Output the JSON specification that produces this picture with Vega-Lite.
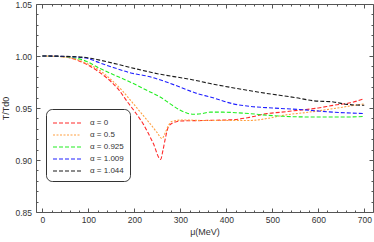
{
  "$schema": "https://vega.github.io/schema/vega-lite/v6.json",
  "width": 337,
  "height": 208,
  "autosize": {"type": "none"},
  "padding": {"left": 36, "top": 4, "right": 1, "bottom": 30},
  "background": "white",
  "config": {
    "view": {"stroke": "#555", "strokeWidth": 1},
    "font": "Liberation Sans",
    "axis": {"grid": false, "domain": false, "tickColor": "#555", "labelColor": "#333", "labelFontSize": 8.5, "titleColor": "#333", "titleFontWeight": "normal", "titleFontSize": 9}
  },
  "data": {"values": [
    {"s": "α = 0", "x": 0, "y": 1.0},
    {"s": "α = 0", "x": 25, "y": 0.9998},
    {"s": "α = 0", "x": 50, "y": 0.999},
    {"s": "α = 0", "x": 75, "y": 0.996},
    {"s": "α = 0", "x": 100, "y": 0.991},
    {"s": "α = 0", "x": 125, "y": 0.984},
    {"s": "α = 0", "x": 150, "y": 0.975},
    {"s": "α = 0", "x": 167, "y": 0.967},
    {"s": "α = 0", "x": 183, "y": 0.957},
    {"s": "α = 0", "x": 200, "y": 0.947},
    {"s": "α = 0", "x": 220, "y": 0.934},
    {"s": "α = 0", "x": 241, "y": 0.916},
    {"s": "α = 0", "x": 257, "y": 0.9005},
    {"s": "α = 0", "x": 262, "y": 0.909},
    {"s": "α = 0", "x": 267, "y": 0.92},
    {"s": "α = 0", "x": 274, "y": 0.932},
    {"s": "α = 0", "x": 285, "y": 0.936},
    {"s": "α = 0", "x": 300, "y": 0.9375},
    {"s": "α = 0", "x": 350, "y": 0.938},
    {"s": "α = 0", "x": 415, "y": 0.9388},
    {"s": "α = 0", "x": 450, "y": 0.941},
    {"s": "α = 0", "x": 488, "y": 0.9446},
    {"s": "α = 0", "x": 520, "y": 0.946},
    {"s": "α = 0", "x": 560, "y": 0.948},
    {"s": "α = 0", "x": 600, "y": 0.95},
    {"s": "α = 0", "x": 633, "y": 0.9526},
    {"s": "α = 0", "x": 670, "y": 0.955},
    {"s": "α = 0", "x": 700, "y": 0.959},
    {"s": "α = 0.5", "x": 0, "y": 1.0},
    {"s": "α = 0.5", "x": 50, "y": 0.999},
    {"s": "α = 0.5", "x": 100, "y": 0.992},
    {"s": "α = 0.5", "x": 125, "y": 0.986},
    {"s": "α = 0.5", "x": 150, "y": 0.977},
    {"s": "α = 0.5", "x": 175, "y": 0.966},
    {"s": "α = 0.5", "x": 198, "y": 0.954},
    {"s": "α = 0.5", "x": 215, "y": 0.945},
    {"s": "α = 0.5", "x": 234, "y": 0.935},
    {"s": "α = 0.5", "x": 250, "y": 0.926},
    {"s": "α = 0.5", "x": 260, "y": 0.9206},
    {"s": "α = 0.5", "x": 267, "y": 0.926},
    {"s": "α = 0.5", "x": 274, "y": 0.933},
    {"s": "α = 0.5", "x": 281, "y": 0.937},
    {"s": "α = 0.5", "x": 306, "y": 0.9385},
    {"s": "α = 0.5", "x": 350, "y": 0.938},
    {"s": "α = 0.5", "x": 400, "y": 0.938},
    {"s": "α = 0.5", "x": 451, "y": 0.938},
    {"s": "α = 0.5", "x": 490, "y": 0.94},
    {"s": "α = 0.5", "x": 524, "y": 0.943},
    {"s": "α = 0.5", "x": 580, "y": 0.946},
    {"s": "α = 0.5", "x": 633, "y": 0.9494},
    {"s": "α = 0.5", "x": 670, "y": 0.952},
    {"s": "α = 0.5", "x": 700, "y": 0.954},
    {"s": "α = 0.925", "x": 0, "y": 1.0},
    {"s": "α = 0.925", "x": 50, "y": 0.9993},
    {"s": "α = 0.925", "x": 95, "y": 0.995},
    {"s": "α = 0.925", "x": 125, "y": 0.988},
    {"s": "α = 0.925", "x": 160, "y": 0.981},
    {"s": "α = 0.925", "x": 198, "y": 0.9735},
    {"s": "α = 0.925", "x": 227, "y": 0.967},
    {"s": "α = 0.925", "x": 256, "y": 0.9606},
    {"s": "α = 0.925", "x": 278, "y": 0.954},
    {"s": "α = 0.925", "x": 299, "y": 0.948},
    {"s": "α = 0.925", "x": 315, "y": 0.945},
    {"s": "α = 0.925", "x": 329, "y": 0.944},
    {"s": "α = 0.925", "x": 345, "y": 0.9445},
    {"s": "α = 0.925", "x": 365, "y": 0.946},
    {"s": "α = 0.925", "x": 393, "y": 0.946},
    {"s": "α = 0.925", "x": 420, "y": 0.9455},
    {"s": "α = 0.925", "x": 451, "y": 0.9446},
    {"s": "α = 0.925", "x": 490, "y": 0.943},
    {"s": "α = 0.925", "x": 524, "y": 0.942},
    {"s": "α = 0.925", "x": 580, "y": 0.9414},
    {"s": "α = 0.925", "x": 633, "y": 0.9414},
    {"s": "α = 0.925", "x": 670, "y": 0.9414},
    {"s": "α = 0.925", "x": 700, "y": 0.942},
    {"s": "α = 1.009", "x": 0, "y": 1.0},
    {"s": "α = 1.009", "x": 50, "y": 0.9995},
    {"s": "α = 1.009", "x": 95, "y": 0.998},
    {"s": "α = 1.009", "x": 125, "y": 0.9933},
    {"s": "α = 1.009", "x": 154, "y": 0.989},
    {"s": "α = 1.009", "x": 190, "y": 0.984},
    {"s": "α = 1.009", "x": 234, "y": 0.98},
    {"s": "α = 1.009", "x": 263, "y": 0.976},
    {"s": "α = 1.009", "x": 300, "y": 0.97},
    {"s": "α = 1.009", "x": 336, "y": 0.964},
    {"s": "α = 1.009", "x": 365, "y": 0.9606},
    {"s": "α = 1.009", "x": 415, "y": 0.954},
    {"s": "α = 1.009", "x": 451, "y": 0.9516},
    {"s": "α = 1.009", "x": 500, "y": 0.95},
    {"s": "α = 1.009", "x": 560, "y": 0.9485},
    {"s": "α = 1.009", "x": 633, "y": 0.946},
    {"s": "α = 1.009", "x": 700, "y": 0.9446},
    {"s": "α = 1.044", "x": 0, "y": 1.0},
    {"s": "α = 1.044", "x": 50, "y": 0.9997},
    {"s": "α = 1.044", "x": 95, "y": 0.9985},
    {"s": "α = 1.044", "x": 125, "y": 0.996},
    {"s": "α = 1.044", "x": 191, "y": 0.989},
    {"s": "α = 1.044", "x": 250, "y": 0.983},
    {"s": "α = 1.044", "x": 328, "y": 0.977},
    {"s": "α = 1.044", "x": 365, "y": 0.9735},
    {"s": "α = 1.044", "x": 420, "y": 0.969},
    {"s": "α = 1.044", "x": 488, "y": 0.964},
    {"s": "α = 1.044", "x": 550, "y": 0.96},
    {"s": "α = 1.044", "x": 589, "y": 0.957},
    {"s": "α = 1.044", "x": 633, "y": 0.9558},
    {"s": "α = 1.044", "x": 662, "y": 0.9535},
    {"s": "α = 1.044", "x": 700, "y": 0.9526}
  ]},
  "encoding": {
    "x": {"field": "x", "type": "quantitative", "scale": {"domain": [-14, 719], "nice": false, "zero": false}},
    "y": {"field": "y", "type": "quantitative", "scale": {"domain": [0.85, 1.05], "nice": false, "zero": false}}
  },
  "resolve": {"axis": {"x": "independent", "y": "independent"}},
  "layer": [
    {
      "mark": {"type": "line", "strokeWidth": 1.1, "interpolate": "monotone"},
      "encoding": {
        "x": {"field": "x", "type": "quantitative", "axis": {"orient": "bottom", "values": [0, 100, 200, 300, 400, 500, 600, 700], "tickSize": -4, "labelPadding": 7, "title": "μ(MeV)", "titleFontStyle": "normal", "titlePadding": 4}},
        "y": {"field": "y", "type": "quantitative", "axis": {"orient": "left", "values": [0.85, 0.9, 0.95, 1.0, 1.05], "format": ".2f", "tickSize": -4, "labelPadding": 8.5, "title": "T/Td0", "titlePadding": 4}},
        "color": {"field": "s", "type": "nominal", "sort": null,
          "scale": {"domain": ["α = 0", "α = 0.5", "α = 0.925", "α = 1.009", "α = 1.044"], "range": ["#ff2a2a", "#ffa040", "#22ee22", "#2020ff", "#1a1a1a"]},
          "legend": {"title": null, "orient": "none", "legendX": 10, "legendY": 105, "symbolType": "M-2,0L2,0", "symbolSize": 196, "symbolStrokeWidth": 1.2, "symbolDash": [4, 2], "symbolOffset": 7, "rowPadding": 0, "labelFontSize": 8, "labelColor": "#333", "labelOffset": 15, "strokeColor": "#333", "fillColor": "white", "cornerRadius": 6, "padding": 6}},
        "strokeDash": {"field": "s", "type": "nominal", "legend": null,
          "scale": {"domain": ["α = 0", "α = 0.5", "α = 0.925", "α = 1.009", "α = 1.044"], "range": [[4, 2], [2, 1.5], [4, 2], [4, 2], [4, 2]]}}
      }
    },
    {
      "mark": {"type": "line", "opacity": 0},
      "encoding": {
        "detail": {"field": "s"},
        "x": {"field": "x", "type": "quantitative", "axis": {"orient": "bottom", "values": [20, 40, 60, 80, 120, 140, 160, 180, 220, 240, 260, 280, 320, 340, 360, 380, 420, 440, 460, 480, 520, 540, 560, 580, 620, 640, 660, 680], "tickSize": -2, "labels": false, "title": null}},
        "y": {"field": "y", "type": "quantitative", "axis": {"orient": "left", "values": [0.86, 0.87, 0.88, 0.89, 0.91, 0.92, 0.93, 0.94, 0.96, 0.97, 0.98, 0.99, 1.01, 1.02, 1.03, 1.04], "tickSize": -2, "labels": false, "title": null}}
      }
    },
    {
      "mark": {"type": "line", "opacity": 0},
      "encoding": {
        "detail": {"field": "s"},
        "x": {"field": "x", "type": "quantitative", "axis": {"orient": "top", "values": [0, 100, 200, 300, 400, 500, 600, 700], "tickSize": -4, "labels": false, "title": null}},
        "y": {"field": "y", "type": "quantitative", "axis": {"orient": "right", "values": [0.85, 0.9, 0.95, 1.0, 1.05], "tickSize": -4, "labels": false, "title": null}}
      }
    },
    {
      "mark": {"type": "line", "opacity": 0},
      "encoding": {
        "detail": {"field": "s"},
        "x": {"field": "x", "type": "quantitative", "axis": {"orient": "top", "values": [20, 40, 60, 80, 120, 140, 160, 180, 220, 240, 260, 280, 320, 340, 360, 380, 420, 440, 460, 480, 520, 540, 560, 580, 620, 640, 660, 680], "tickSize": -2, "labels": false, "title": null}},
        "y": {"field": "y", "type": "quantitative", "axis": {"orient": "right", "values": [0.86, 0.87, 0.88, 0.89, 0.91, 0.92, 0.93, 0.94, 0.96, 0.97, 0.98, 0.99, 1.01, 1.02, 1.03, 1.04], "tickSize": -2, "labels": false, "title": null}}
      }
    }
  ]
}
